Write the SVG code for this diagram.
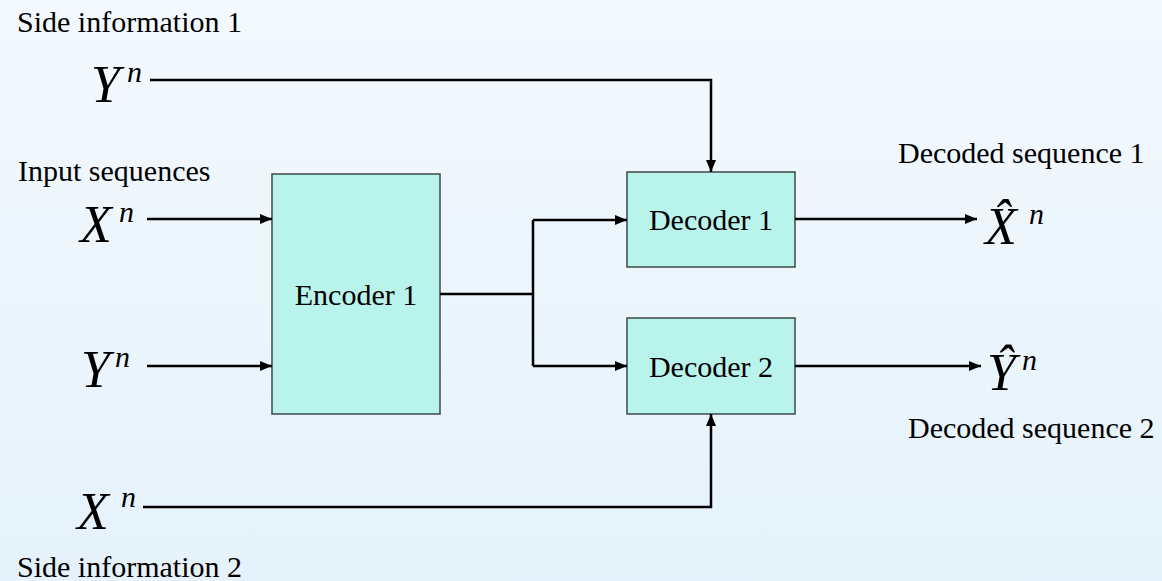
<svg xmlns="http://www.w3.org/2000/svg" width="1162" height="581" viewBox="0 0 1162 581">
  <defs>
    <linearGradient id="bg" x1="0" y1="0" x2="0" y2="1">
      <stop offset="0" stop-color="#F3F9FE"/>
      <stop offset="1" stop-color="#E5F2FB"/>
    </linearGradient>
    <marker id="arrow" viewBox="0 0 12 10" refX="12" refY="5" markerWidth="12" markerHeight="10" markerUnits="userSpaceOnUse" orient="auto">
      <path d="M0,0 L12,5 L0,10 Z" fill="#000"/>
    </marker>
  </defs>
  <style>
    .box { fill: #B9F4EC; stroke: #3C4848; stroke-width: 1.5; }
    .lbl { font-family: "Liberation Serif", "Times New Roman", serif; font-size: 30px; fill: #000; }
    .mid { text-anchor: middle; }
    .math { font-family: "Liberation Serif", "Times New Roman", serif; font-style: italic; fill: #000; font-size: 52px; }
    .sup { font-size: 30px; }
    .wire { fill: none; stroke: #000; stroke-width: 2.5; }
  </style>

  <rect x="0" y="0" width="1162" height="581" fill="url(#bg)"/>

  <!-- plain labels -->
  <text class="lbl" x="17" y="32">Side information 1</text>
  <text class="lbl" x="18" y="181">Input sequences</text>
  <text class="lbl" x="17" y="577">Side information 2</text>
  <text class="lbl" x="898" y="163">Decoded sequence 1</text>
  <text class="lbl" x="908" y="438">Decoded sequence 2</text>

  <!-- source and side-information symbols -->
  <g id="sym-side1">
    <text class="math" x="91" y="102">Y<tspan class="sup" x="127" y="82">n</tspan></text>
  </g>
  <g id="sym-in-x">
    <text class="math" x="80" y="242">X<tspan class="sup" x="119" y="222">n</tspan></text>
  </g>
  <g id="sym-in-y">
    <text class="math" x="81" y="387">Y<tspan class="sup" x="115" y="367">n</tspan></text>
  </g>
  <g id="sym-side2">
    <text class="math" x="77" y="529">X<tspan class="sup" x="121" y="507">n</tspan></text>
  </g>

  <!-- estimates (X and Y with a circumflex) -->
  <g id="sym-xhat">
    <text class="math" x="985" y="244">X&#770;<tspan class="sup" x="1029" y="224">n</tspan></text>
  </g>
  <g id="sym-yhat">
    <text class="math" x="987" y="390">Y&#770;<tspan class="sup" x="1022" y="370">n</tspan></text>
  </g>

  <!-- blocks -->
  <g id="encoder1">
    <rect class="box" x="272" y="174" width="168" height="240"/>
    <text class="lbl mid" x="356" y="305">Encoder 1</text>
  </g>
  <g id="decoder1">
    <rect class="box" x="627" y="172" width="168" height="95"/>
    <text class="lbl mid" x="711" y="230">Decoder 1</text>
  </g>
  <g id="decoder2">
    <rect class="box" x="627" y="318" width="168" height="96"/>
    <text class="lbl mid" x="711" y="377">Decoder 2</text>
  </g>

  <!-- connectors -->
  <g id="connectors">
    <path class="wire" d="M150,80 H711 V172" marker-end="url(#arrow)"/>
    <path class="wire" d="M147,219 H272" marker-end="url(#arrow)"/>
    <path class="wire" d="M147,366 H272" marker-end="url(#arrow)"/>
    <path class="wire" d="M440,294 H533 M533,220 V366"/>
    <path class="wire" d="M533,220 H627" marker-end="url(#arrow)"/>
    <path class="wire" d="M533,366 H627" marker-end="url(#arrow)"/>
    <path class="wire" d="M795,219 H977" marker-end="url(#arrow)"/>
    <path class="wire" d="M795,366 H981" marker-end="url(#arrow)"/>
    <path class="wire" d="M143,507 H711 V414" marker-end="url(#arrow)"/>
  </g>
</svg>
